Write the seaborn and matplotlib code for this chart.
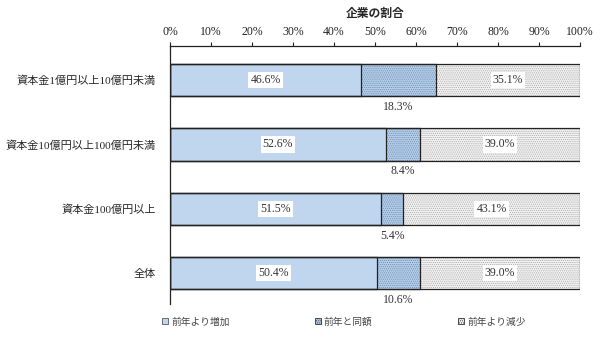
import numpy as np
import pandas as pd
import matplotlib
matplotlib.use('Agg')
import matplotlib.pyplot as plt
from matplotlib.patches import Patch
import seaborn as sns

categories = ['資本金1億円以上10億円未満', '資本金10億円以上100億円未満', '資本金100億円以上', '全体']
increase = [46.6, 52.6, 51.5, 50.4]
same = [18.3, 8.4, 5.4, 10.6]
decrease = [35.1, 39.0, 43.1, 39.0]
series_names = ['前年より増加', '前年と同額', '前年より減少']
xticks = list(range(0, 101, 10))

sns.set_theme(style='white')
plt.rcParams['font.family'] = ['Liberation Serif', 'Noto Sans CJK JP']
plt.rcParams['hatch.linewidth'] = 0.5

BLUE = '#bfd6ee'
MID = '#b4cde8'
GRAY = '#f2f2f2'

df = pd.DataFrame({'cat': categories, 'inc': increase, 'same': same, 'dec': decrease})
df['c1'] = df['inc']
df['c2'] = df['inc'] + df['same']
df['c3'] = df['c2'] + df['dec']

fig = plt.figure(figsize=(6.12, 3.5), dpi=100)
ax = fig.add_axes([170 / 612, 46 / 350, 410 / 612, 258 / 350])

# stacked bars drawn as overlapping cumulative bars
sns.barplot(data=df, x='c3', y='cat', orient='h', color=GRAY, saturation=1,
            width=0.5, hatch='........', edgecolor='#a8a8a8', linewidth=0, ax=ax)
sns.barplot(data=df, x='c2', y='cat', orient='h', color=MID, saturation=1,
            width=0.5, hatch='........', edgecolor='#6f8db0', linewidth=0, ax=ax)
sns.barplot(data=df, x='c1', y='cat', orient='h', color=BLUE, saturation=1,
            width=0.5, linewidth=0, ax=ax)
for col in ['c3', 'c2', 'c1']:
    sns.barplot(data=df, x=col, y='cat', orient='h', color='#222222', fill=False,
                width=0.5, linewidth=0.9, ax=ax)

for i, row in df.iterrows():
    ax.text(row['c1'] / 2, i, f"{row['inc']:.1f}%", ha='center', va='center', fontsize=8.5,
            color='#333333', bbox=dict(facecolor='white', edgecolor='none', pad=1.5))
    ax.text((row['c2'] + 100) / 2, i, f"{row['dec']:.1f}%", ha='center', va='center', fontsize=8.5,
            color='#333333', bbox=dict(facecolor='white', edgecolor='none', pad=1.5))
    ax.text((row['c1'] + row['c2']) / 2, i + 0.42, f"{row['same']:.1f}%",
            ha='center', va='center', fontsize=8.5, color='#333333')

ax.set_xlim(0, 100)
ax.set_ylim(3.48, -0.53)
ax.xaxis.tick_top()
ax.xaxis.set_label_position('top')
ax.set_xticks(xticks)
ax.set_xticklabels([f'{t}%' for t in xticks], fontsize=8.5)
ax.tick_params(axis='x', direction='out', length=3, width=0.8, pad=3, colors='#222222')
ax.tick_params(axis='y', length=0, pad=10, labelsize=8)
ax.set_xlabel('企業の割合', fontsize=8.5, labelpad=6, fontweight='bold')
ax.set_ylabel('')
for s in ['right', 'bottom']:
    ax.spines[s].set_visible(False)
for s in ['top', 'left']:
    ax.spines[s].set_color('#222222')
    ax.spines[s].set_linewidth(0.9)

handles = [
    Patch(facecolor=BLUE, edgecolor='#555555', linewidth=0.6),
    Patch(facecolor=MID, edgecolor='#333333', linewidth=0.6, hatch='........'),
    Patch(facecolor=GRAY, edgecolor='#333333', linewidth=0.6, hatch='........'),
]
fig.legend(handles, series_names, loc='center', bbox_to_anchor=(344 / 612, 1 - 322 / 350),
           ncol=3, frameon=False, fontsize=7, handlelength=0.6, handleheight=0.6,
           handletextpad=0.3, columnspacing=8.8, labelcolor='#444444')

fig.savefig('out.png', dpi=100)
